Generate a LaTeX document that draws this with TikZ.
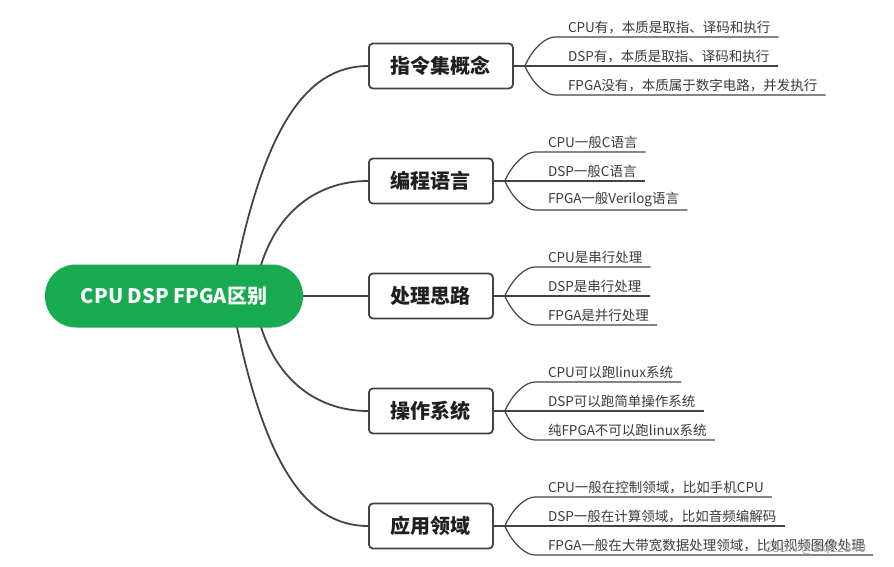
\documentclass[tikz,border=0pt]{standalone}
\usepackage{fontspec}
\setmainfont{Noto Sans CJK SC}
\usepackage{xcolor}
\usepackage{tikz}
\usetikzlibrary{positioning, backgrounds}
\definecolor{rootgreen}{RGB}{24,170,80}
\definecolor{linegray}{RGB}{68,68,68}
\definecolor{textgray}{RGB}{58,58,58}

\begin{document}
\begin{tikzpicture}[
  x=1pt, y=1pt,
  root/.style={fill=rootgreen, text=white, rounded corners=31pt, minimum width=258pt, minimum height=63pt, font=\fontsize{20}{24}\selectfont\bfseries},
  topic/.style={draw=linegray, line width=1.8pt, fill=white, rounded corners=4pt, minimum height=45pt, inner xsep=22pt, anchor=west, text=black!88, font=\fontsize{20}{24}\selectfont\bfseries},
  leaf/.style={anchor=south west, inner xsep=8pt, inner ysep=3pt, text=textgray, font=\fontsize{13.5}{16}\selectfont},
  trunk/.style={draw=linegray, line width=1.8pt},
  twig/.style={draw=linegray, line width=1.2pt}
]
\useasboundingbox (0,0) rectangle (894,566);

\node[root] (root) at (174,270) {CPU DSP FPGA区别};

\node[topic] (concept) at (368,500) {指令集概念};
\node[topic] (lang) at (368,385) {编程语言};
\node[topic] (flow) at (368,270) {处理思路};
\node[topic] (os) at (368,155) {操作系统};
\node[topic] (app) at (368,40) {应用领域};

\begin{scope}[on background layer]
\draw[trunk] ([shift={(58,6)}]root.center) .. controls +(30,160) and ([xshift=-63pt]concept.west) .. (concept.west);
\draw[trunk] ([shift={(81,6)}]root.center) .. controls +(13,75) and ([xshift=-53pt]lang.west) .. (lang.west);
\draw[trunk] (root.east) -- (flow.west);
\draw[trunk] ([shift={(81,-6)}]root.center) .. controls +(13,-75) and ([xshift=-53pt]os.west) .. (os.west);
\draw[trunk] ([shift={(58,-6)}]root.center) .. controls +(30,-160) and ([xshift=-63pt]app.west) .. (app.west);
\end{scope}

% instruction set
\coordinate[right=11pt of concept.east] (bconcept);
\node[leaf, above right=29pt and 35pt of bconcept, anchor=south west] (concept1) {CPU有，本质是取指、译码和执行};
\node[leaf, right=35pt of bconcept, anchor=south west] (concept2) {DSP有，本质是取指、译码和执行};
\node[leaf, below right=29pt and 35pt of bconcept, anchor=south west] (concept3) {FPGA没有，本质属于数字电路，并发执行};
\draw[twig] (concept.east) -- (bconcept) -- (concept2.south east);
\draw[twig] (bconcept) .. controls +(8,18) and ([xshift=-14pt]concept1.south west) .. ([xshift=-5pt]concept1.south west) -- (concept1.south east);
\draw[twig] (bconcept) .. controls +(8,-18) and ([xshift=-14pt]concept3.south west) .. ([xshift=-5pt]concept3.south west) -- (concept3.south east);

% language
\coordinate[right=11pt of lang.east] (blang);
\node[leaf, above right=29pt and 35pt of blang, anchor=south west] (lang1) {CPU一般C语言};
\node[leaf, right=35pt of blang, anchor=south west] (lang2) {DSP一般C语言};
\node[leaf, below right=29pt and 35pt of blang, anchor=south west] (lang3) {FPGA一般Verilog语言};
\draw[twig] (lang.east) -- (blang) -- (lang2.south east);
\draw[twig] (blang) .. controls +(8,18) and ([xshift=-14pt]lang1.south west) .. ([xshift=-5pt]lang1.south west) -- (lang1.south east);
\draw[twig] (blang) .. controls +(8,-18) and ([xshift=-14pt]lang3.south west) .. ([xshift=-5pt]lang3.south west) -- (lang3.south east);

% processing
\coordinate[right=11pt of flow.east] (bflow);
\node[leaf, above right=29pt and 35pt of bflow, anchor=south west] (flow1) {CPU是串行处理};
\node[leaf, right=35pt of bflow, anchor=south west] (flow2) {DSP是串行处理};
\node[leaf, below right=29pt and 35pt of bflow, anchor=south west] (flow3) {FPGA是并行处理};
\draw[twig] (flow.east) -- (bflow) -- (flow2.south east);
\draw[twig] (bflow) .. controls +(8,18) and ([xshift=-14pt]flow1.south west) .. ([xshift=-5pt]flow1.south west) -- (flow1.south east);
\draw[twig] (bflow) .. controls +(8,-18) and ([xshift=-14pt]flow3.south west) .. ([xshift=-5pt]flow3.south west) -- (flow3.south east);

% operating system
\coordinate[right=11pt of os.east] (bos);
\node[leaf, above right=29pt and 35pt of bos, anchor=south west] (os1) {CPU可以跑linux系统};
\node[leaf, right=35pt of bos, anchor=south west] (os2) {DSP可以跑简单操作系统};
\node[leaf, below right=29pt and 35pt of bos, anchor=south west] (os3) {纯FPGA不可以跑linux系统};
\draw[twig] (os.east) -- (bos) -- (os2.south east);
\draw[twig] (bos) .. controls +(8,18) and ([xshift=-14pt]os1.south west) .. ([xshift=-5pt]os1.south west) -- (os1.south east);
\draw[twig] (bos) .. controls +(8,-18) and ([xshift=-14pt]os3.south west) .. ([xshift=-5pt]os3.south west) -- (os3.south east);

% application
\coordinate[right=11pt of app.east] (bapp);
\node[leaf, above right=29pt and 35pt of bapp, anchor=south west] (app1) {CPU一般在控制领域，比如手机CPU};
\node[leaf, right=35pt of bapp, anchor=south west] (app2) {DSP一般在计算领域，比如音频编解码};
\node[leaf, below right=29pt and 35pt of bapp, anchor=south west] (app3) {FPGA一般在大带宽数据处理领域，比如视频图像处理};
\draw[twig] (app.east) -- (bapp) -- (app2.south east);
\draw[twig] (bapp) .. controls +(8,18) and ([xshift=-14pt]app1.south west) .. ([xshift=-5pt]app1.south west) -- (app1.south east);
\draw[twig] (bapp) .. controls +(8,-18) and ([xshift=-14pt]app3.south west) .. ([xshift=-5pt]app3.south west) -- (app3.south east);

\node[text=black!35, font=\fontsize{13}{15}\selectfont] (watermark) at (815,17) {CSDN @zkj12340};
\end{tikzpicture}
\end{document}
